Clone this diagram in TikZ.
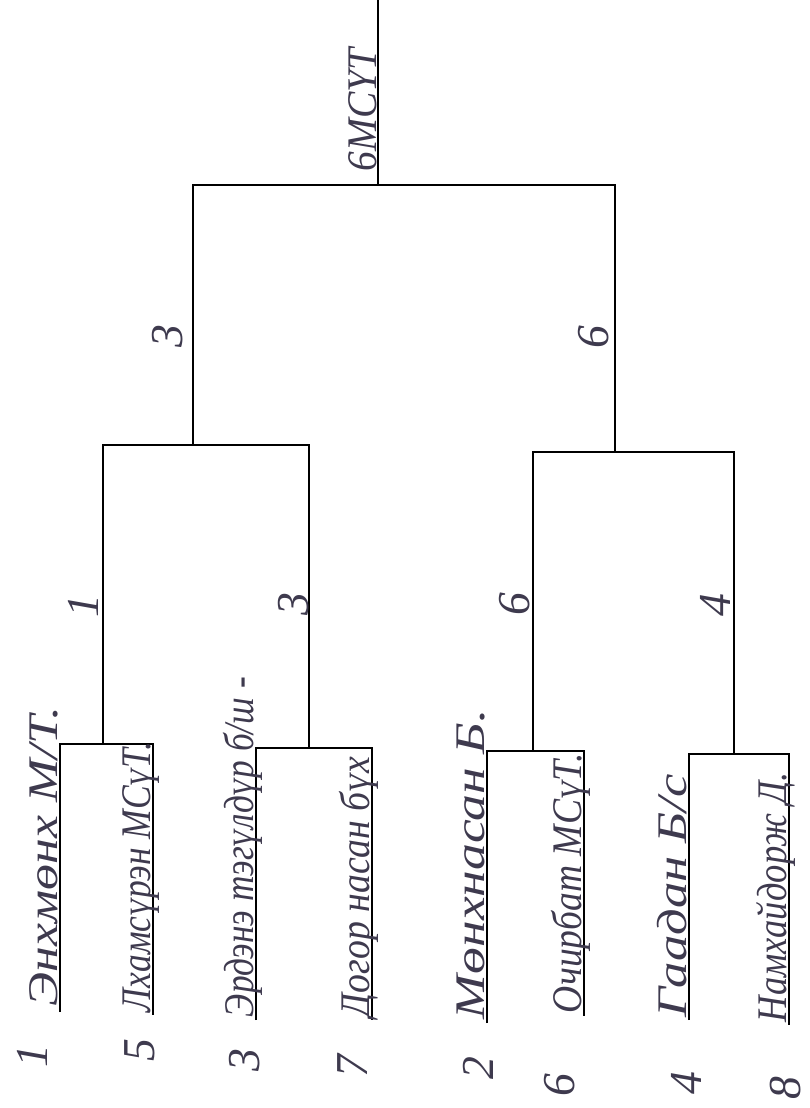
\documentclass[tikz,border=0pt]{standalone}
\usepackage{fontspec}
\usepackage{graphicx}
\setmainfont{Liberation Serif}
\usetikzlibrary{positioning}
\definecolor{ink}{RGB}{62,58,78}
\newcommand{\namefit}[2]{\resizebox{#1}{\height}{#2}}

\begin{document}
\begin{tikzpicture}[x=0.02cm, y=-0.02cm, line width=1.1pt]
            \tikzset{
                entrant/.style={
                        rotate=90, anchor=base west, inner sep=0pt, text=ink,
                        font=\fontsize{24}{24}\selectfont\itshape
                    },
                seed/.style={
                        rotate=90, inner sep=0pt, text=ink,
                        font=\fontsize{26}{26}\selectfont\itshape
                    }
            }
            \useasboundingbox (0,0) rectangle (810,1108);

            % Junctions
            \coordinate (top) at (378,0);
            \coordinate (fin) at (378,185);
            \coordinate (sA) at (193,445);
            \coordinate (sB) at (615,452);
            \coordinate (qA) at (103,744);
            \coordinate (qB) at (309,748);
            \coordinate (qC) at (533,751);
            \coordinate (qD) at (734,754);

            % Line ends under the names
            \coordinate (e1) at (60,1012);
            \coordinate (e5) at (153,1015);
            \coordinate (e3) at (256,1020);
            \coordinate (e7) at (372,1020);
            \coordinate (e2) at (487,1023);
            \coordinate (e6) at (584,1016);
            \coordinate (e4) at (689,1020);
            \coordinate (e8) at (789,1025);

            % Bracket
            \draw (top) -- (fin);
            \draw (sA) |- (fin) -| (sB);
            \draw (qA) |- (sA) -| (qB);
            \draw (qC) |- (sB) -| (qD);
            \draw (e1) |- (qA) -| (e5);
            \draw (e3) |- (qB) -| (e7);
            \draw (e2) |- (qC) -| (e6);
            \draw (e4) |- (qD) -| (e8);

            % Names
            \node[entrant] (t1) at (57,1007) {\namefit{6cm}{Энхмөнх М/Т.}};
            \node[entrant] (t5) at (150,1013) {\namefit{5.4cm}{Лхамсүрэн МСүТ.}};
            \node[entrant] (t3) at (253,1018) {\namefit{6.8cm}{Эрдэнэ тэгүлдүр б/ш -}};
            \node[entrant] (t7) at (369,1018) {\namefit{5.2cm}{Догор насан бүх}};
            \node[entrant] (t2) at (484,1020) {\namefit{6.2cm}{Мөнхнасан Б.}};
            \node[entrant] (t6) at (581,1014) {\namefit{5.2cm}{Очирбат МСүТ.}};
            \node[entrant] (t4) at (686,1018) {\namefit{4.86cm}{Гаадан Б/с}};
            \node[entrant] (t8) at (786,1023) {\namefit{5cm}{Намхайдорж Д.}};
            \node[entrant] (win) at (376,172) {\namefit{2.46cm}{6МСҮТ}};

            % Seeds
            \node[seed] (n1) at (32,1056) {1};
            \node[seed] (n5) at (140,1050) {5};
            \node[seed] (n3) at (245,1060) {3};
            \node[seed] (n7) at (353,1066) {7};
            \node[seed] (n2) at (478,1068) {2};
            \node[seed] (n6) at (560,1085) {6};
            \node[seed] (n4) at (686,1083) {4};
            \node[seed] (n8) at (786,1088) {8};

            % Winners
            \node[seed] (wA) at (83,606) {1};
            \node[seed] (wB) at (294,604) {3};
            \node[seed] (wC) at (515,604) {6};
            \node[seed] (wD) at (715,605) {4};
            \node[seed] (wS) at (168,336) {3};
            \node[seed] (wT) at (594,337) {6};
\end{tikzpicture}
\end{document}
